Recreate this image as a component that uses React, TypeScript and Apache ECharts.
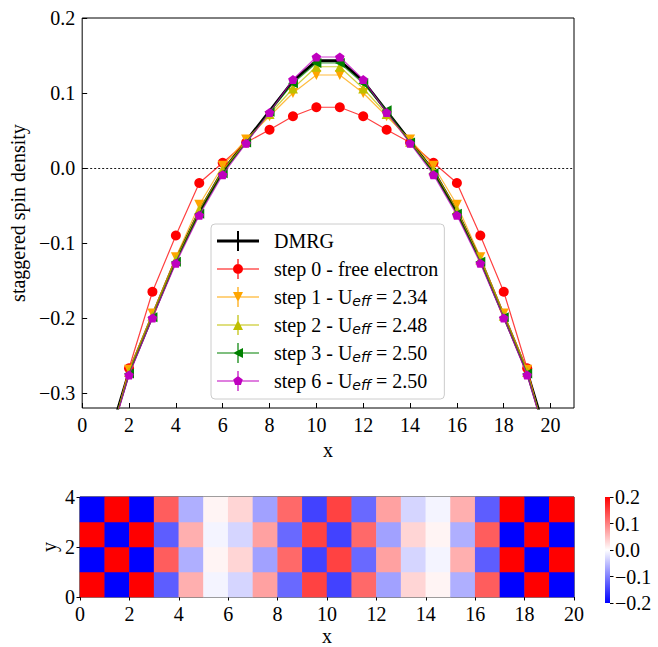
import React, { useEffect, useRef } from "react";
import * as echarts from "echarts";

// ---------- data ----------
const sites = [1, 2, 3, 4, 5, 6, 7, 8, 9, 10, 11, 12, 13, 14, 15, 16, 17, 18, 19, 20];
const dmrg = [-0.375, -0.272, -0.197, -0.122, -0.058, -0.004, 0.036, 0.076, 0.116, 0.143, 0.143, 0.116, 0.076, 0.036, -0.004, -0.058, -0.122, -0.197, -0.272, -0.375];
const step0 = [-0.39, -0.267, -0.165, -0.09, -0.02, 0.007, 0.034, 0.051, 0.069, 0.081, 0.081, 0.069, 0.051, 0.034, 0.007, -0.02, -0.09, -0.165, -0.267, -0.39];
const step1 = [-0.385, -0.269, -0.194, -0.119, -0.049, 0.003, 0.038, 0.069, 0.1, 0.124, 0.124, 0.1, 0.069, 0.038, 0.003, -0.049, -0.119, -0.194, -0.269, -0.385];
const step2 = [-0.38, -0.272, -0.197, -0.122, -0.056, -0.003, 0.035, 0.072, 0.106, 0.135, 0.135, 0.106, 0.072, 0.035, -0.003, -0.056, -0.122, -0.197, -0.272, -0.38];
const step3 = [-0.38, -0.274, -0.199, -0.125, -0.061, -0.007, 0.034, 0.075, 0.113, 0.14, 0.14, 0.113, 0.077, 0.034, -0.007, -0.061, -0.125, -0.199, -0.274, -0.38];
const step6 = [-0.382, -0.276, -0.2, -0.127, -0.063, -0.009, 0.033, 0.074, 0.118, 0.148, 0.148, 0.118, 0.074, 0.033, -0.009, -0.063, -0.127, -0.2, -0.276, -0.382];
const seriesNames = [
  "DMRG",
  "step 0 - free electron",
  "step 1 - U_eff = 2.34",
  "step 2 - U_eff = 2.48",
  "step 3 - U_eff = 2.50",
  "step 6 - U_eff = 2.50",
];
const heatRows = [0, 1, 2, 3];
const topXTicks = [0, 2, 4, 6, 8, 10, 12, 14, 16, 18, 20];
const topYTicks = [-0.3, -0.2, -0.1, 0, 0.1, 0.2];

// ---------- styles ----------
const FONT = "'Liberation Serif', 'Times New Roman', serif";
const FS = 20;
const colors = ["#000000", "#ff0000", "#ffa500", "#bfbf00", "#008000", "#bf00bf"];
const PENTA = "path://M0,-1 L0.951,-0.309 L0.588,0.809 L-0.588,0.809 L-0.951,-0.309 Z";
const symbols = ["none", "circle", "triangle", "triangle", "triangle", PENTA];
const symbolRot = [0, 0, 180, 0, 90, 0];
const symbolSizes: any[] = [0, 10, 10, 10, 10, [9.6, 9.2]];

const H = "M0,9.4 h42 v1.2 h-42 Z M20.4,0 h1.2 v20 h-1.2 Z ";
const legendIcons = [
  "path://M0,8.6 h42 v2.8 h-42 Z M20,0 h2 v20 h-2 Z",
  "path://" + H + "M16,10 A5,5 0 1,1 26,10 A5,5 0 1,1 16,10 Z",
  "path://" + H + "M16,5 L26,5 L21,15 Z",
  "path://" + H + "M21,5 L26,15 L16,15 Z",
  "path://" + H + "M16,10 L26,5 L26,15 Z",
  "path://" + H + "M21,5 L25.76,8.45 L23.94,14.05 L18.06,14.05 L16.24,8.45 Z",
];

const fmt1 = (v: number) => (v < -1e-9 ? "\u2212" : "") + Math.abs(v).toFixed(1);
const labelStyle = { fontFamily: FONT, fontSize: FS, color: "#000", fontStyle: "normal", fontWeight: "normal" };

function buildOption() {
  const lineData = [dmrg, step0, step1, step2, step3, step6];
  const lineSeries = lineData.map((vals, i) => {
    const s: any = {
      type: "line",
      name: seriesNames[i],
      xAxisIndex: 0,
      yAxisIndex: 0,
      data: sites.map((x, k) => [x, vals[k]]),
      color: colors[i],
      symbol: symbols[i],
      symbolSize: symbolSizes[i],
      symbolRotate: symbolRot[i],
      symbolKeepAspect: true,
      showSymbol: i !== 0,
      lineStyle: i === 0 ? { width: 2.8, color: "#000" } : { width: 1.2, opacity: 0.75 },
      itemStyle: { color: colors[i] },
      clip: true,
      emphasis: { disabled: true },
      z: 2 + i,
    };
    if (i === 0) {
      s.markLine = {
        silent: true,
        symbol: "none",
        label: { show: false },
        lineStyle: { type: [2, 2], color: "#000", width: 0.9 },
        data: [{ yAxis: 0 }],
      };
    }
    return s;
  });

  const heatData: number[][] = [];
  sites.forEach((site, i) => {
    heatRows.forEach((r) => {
      const sign = (site + r) % 2 === 0 ? 1 : -1;
      heatData.push([i, r, sign * step6[i]]);
    });
  });

  const nameStyle = { fontFamily: FONT, fontSize: 20, color: "#000" };

  return {
    animation: false,
    backgroundColor: "#fff",
    textStyle: { fontFamily: FONT, fontSize: FS },
    grid: [
      { left: 80, top: 18, width: 494, height: 390, show: true, borderColor: "#000", borderWidth: 1, backgroundColor: "transparent" },
      { left: 80, top: 497, width: 494, height: 106, show: true, borderColor: "#000", borderWidth: 1, backgroundColor: "transparent" },
      {
        left: 605, top: 497, width: 5, height: 106, show: true, borderWidth: 0,
        backgroundColor: {
          type: "linear", x: 0, y: 0, x2: 0, y2: 1,
          colorStops: [
            { offset: 0, color: "#ff0000" },
            { offset: 0.5, color: "#ffffff" },
            { offset: 1, color: "#0000ff" },
          ],
        },
      },
    ],
    xAxis: [
      {
        gridIndex: 0, type: "value", min: 0, max: 21, position: "bottom",
        axisLine: { show: false, onZero: false },
        axisTick: { show: true, inside: true, length: 5, customValues: topXTicks, lineStyle: { color: "#000" } },
        axisLabel: { ...labelStyle, margin: 7, customValues: topXTicks, formatter: (v: number) => String(v) },
        splitLine: { show: false },
        name: "x", nameLocation: "middle", nameGap: 30,
        nameTextStyle: nameStyle,
      },
      { gridIndex: 1, type: "category", data: sites.map(String), position: "top", show: false, axisLine: { onZero: false } },
      {
        gridIndex: 1, type: "value", min: 0, max: 20, interval: 2, position: "bottom",
        axisLine: { show: false, onZero: false },
        axisTick: { show: true, inside: false, length: 3.5, lineStyle: { color: "#000" } },
        axisLabel: { ...labelStyle, margin: 7, formatter: (v: number) => String(v) },
        splitLine: { show: false },
        name: "x", nameLocation: "middle", nameGap: 29,
        nameTextStyle: nameStyle,
      },
      { gridIndex: 2, type: "value", min: 0, max: 1, show: false, axisLine: { onZero: false } },
    ],
    yAxis: [
      {
        gridIndex: 0, type: "value", min: -0.32, max: 0.2, position: "left",
        axisLine: { show: false, onZero: false },
        axisTick: { show: true, inside: true, length: 5, customValues: topYTicks, lineStyle: { color: "#000" } },
        axisLabel: { ...labelStyle, margin: 7, customValues: topYTicks, formatter: fmt1 },
        splitLine: { show: false },
        name: "staggered spin density", nameLocation: "middle", nameRotate: 90, nameGap: 52,
        nameTextStyle: nameStyle,
      },
      { gridIndex: 1, type: "category", data: heatRows.map(String), position: "right", show: false, axisLine: { onZero: false } },
      {
        gridIndex: 1, type: "value", min: 0, max: 4, interval: 2, position: "left",
        axisLine: { show: false, onZero: false },
        axisTick: { show: true, inside: false, length: 3.5, lineStyle: { color: "#000" } },
        axisLabel: { ...labelStyle, margin: 5, formatter: (v: number) => String(v) },
        splitLine: { show: false },
        name: "y", nameLocation: "middle", nameRotate: 90, nameGap: 21,
        nameMoveOverlap: false,
        nameTextStyle: nameStyle,
      },
      {
        gridIndex: 2, type: "value", min: -0.2, max: 0.2, interval: 0.1, position: "right",
        axisLine: { show: false, onZero: false },
        axisTick: { show: true, inside: false, length: 3.5, lineStyle: { color: "#000" } },
        axisLabel: { ...labelStyle, margin: 5, formatter: fmt1 },
        splitLine: { show: false },
      },
    ],
    visualMap: {
      type: "continuous",
      show: false,
      min: -0.2,
      max: 0.2,
      seriesIndex: 6,
      dimension: 2,
      inRange: { color: ["#0000ff", "#ffffff", "#ff0000"] },
    },
    legend: {
      orient: "vertical",
      left: 211,
      top: 224,
      selectedMode: false,
      itemWidth: 42,
      itemHeight: 20,
      itemGap: 6,
      padding: [6, 6, 7, 6],
      backgroundColor: "rgba(255,255,255,0.8)",
      borderColor: "#cccccc",
      borderWidth: 1,
      borderRadius: 4,
      data: seriesNames.map((n, i) => ({ name: n, icon: legendIcons[i] })),
      formatter: (name: string) => name.replace("U_eff", "U{sub|eff}"),
      textStyle: {
        fontFamily: FONT,
        fontSize: FS,
        fontStyle: "normal",
        fontWeight: "normal",
        color: "#000",
        lineHeight: 22,
        padding: [0, 0, 0, 10],
        rich: {
          sub: {
            fontFamily: "'DejaVu Sans', sans-serif",
            fontStyle: "italic",
            fontSize: 14,
            lineHeight: 14,
            verticalAlign: "bottom",
            color: "#000",
          },
        },
      },
    },
    series: [
      ...lineSeries,
      {
        type: "heatmap",
        xAxisIndex: 1,
        yAxisIndex: 1,
        data: heatData,
        emphasis: { disabled: true },
        itemStyle: { borderWidth: 0 },
      },
    ],
  };
}

export default function App() {
  const ref = useRef<HTMLDivElement>(null);
  useEffect(() => {
    const chart = echarts.init(ref.current!, null, { renderer: "svg" });
    chart.setOption(buildOption() as any);
    return () => chart.dispose();
  }, []);
  return (
    <div
      ref={ref}
      style={{ position: "absolute", left: 0, top: 0, width: 658, height: 647, background: "#fff" }}
    />
  );
}
